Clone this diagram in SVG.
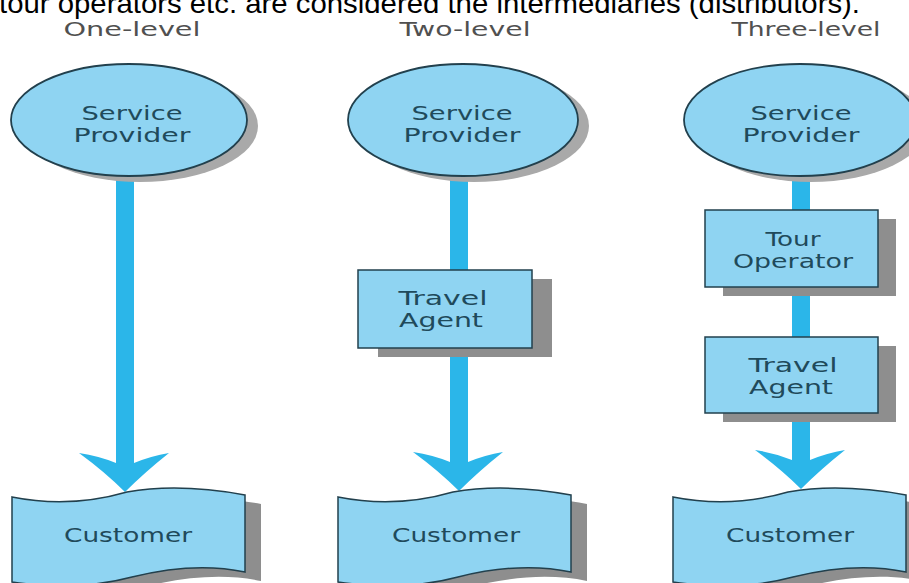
<svg xmlns="http://www.w3.org/2000/svg" width="909" height="583" viewBox="0 0 909 583">
<style>
.sp{fill:#8fd4f2;stroke:#22404d;stroke-width:1.8}
.bx{fill:#8fd4f2;stroke:#22404d;stroke-width:1.5}
.sh{fill:#8e8e8e}
.esh{fill:#a9a9a9}
.flow{fill:#2bb6e9}
.lbl{font-family:"DejaVu Sans",sans-serif;font-size:19px;fill:#1f4a5b;text-anchor:middle}
.hdr{font-family:"DejaVu Sans",sans-serif;font-size:20px;fill:#505050;text-anchor:middle}
.top{font-family:"Liberation Sans",Arial,sans-serif;font-size:28px;fill:#000}
</style>
<defs>
<path id="cust" d="M0,0 C30,6 70,8 115,-5 C155,-12 200,-8 233,-2 L233,75 C200,68 160,70 120,80 C75,92 35,90 0,85 Z"/>
<path id="head" d="M-46,0 Q-26,3 -9,10 L9,10 Q26,3 44,0 Q20,19 0,39 Q-20,19 -46,0 Z"/>
</defs>
<rect width="909" height="583" fill="#fff"/>
<text class="top" x="-1" y="13" textLength="861" lengthAdjust="spacingAndGlyphs">tour operators etc. are considered the intermediaries (distributors).</text>
<g id="headers">
<text class="hdr" x="132" y="36" textLength="137" lengthAdjust="spacingAndGlyphs">One-level</text>
<text class="hdr" x="465" y="36" textLength="131" lengthAdjust="spacingAndGlyphs">Two-level</text>
<text class="hdr" x="806" y="36" textLength="149" lengthAdjust="spacingAndGlyphs">Three-level</text>
</g>
<g id="connectors">
<rect class="flow" x="116" y="175" width="18" height="290"/>
<use href="#head" class="flow" transform="translate(125,453)"/>
<rect class="flow" x="450" y="175" width="18" height="97"/>
<rect class="flow" x="450" y="346" width="18" height="118"/>
<use href="#head" class="flow" transform="translate(459,452)"/>
<rect class="flow" x="792" y="175" width="18" height="37"/>
<rect class="flow" x="792" y="285" width="18" height="54"/>
<rect class="flow" x="792" y="411" width="18" height="51"/>
<use href="#head" class="flow" transform="translate(801,450)"/>
</g>
<g id="sp1">
<ellipse class="esh" cx="140" cy="126" rx="118" ry="56"/>
<ellipse class="sp" cx="129" cy="120" rx="118" ry="56"/>
<text class="lbl" x="132" y="120" textLength="101" lengthAdjust="spacingAndGlyphs">Service</text>
<text class="lbl" x="132" y="142" textLength="117" lengthAdjust="spacingAndGlyphs">Provider</text>
</g>
<g id="sp2">
<ellipse class="esh" cx="474" cy="126" rx="115" ry="56"/>
<ellipse class="sp" cx="463" cy="120" rx="115" ry="56"/>
<text class="lbl" x="462" y="120" textLength="101" lengthAdjust="spacingAndGlyphs">Service</text>
<text class="lbl" x="462" y="142" textLength="117" lengthAdjust="spacingAndGlyphs">Provider</text>
</g>
<g id="sp3">
<ellipse class="esh" cx="811" cy="126" rx="116" ry="56"/>
<ellipse class="sp" cx="800" cy="120" rx="116" ry="56"/>
<text class="lbl" x="801" y="120" textLength="101" lengthAdjust="spacingAndGlyphs">Service</text>
<text class="lbl" x="801" y="142" textLength="117" lengthAdjust="spacingAndGlyphs">Provider</text>
</g>
<g id="ta2">
<rect class="sh" x="378" y="279" width="174" height="78"/>
<rect class="bx" x="358" y="270" width="174" height="78"/>
<text class="lbl" x="443" y="305" textLength="89" lengthAdjust="spacingAndGlyphs">Travel</text>
<text class="lbl" x="441" y="327" textLength="84" lengthAdjust="spacingAndGlyphs">Agent</text>
</g>
<g id="to3">
<rect class="sh" x="723" y="219" width="173" height="77"/>
<rect class="bx" x="705" y="210" width="173" height="77"/>
<text class="lbl" x="793" y="246" textLength="55" lengthAdjust="spacingAndGlyphs">Tour</text>
<text class="lbl" x="793" y="268" textLength="120" lengthAdjust="spacingAndGlyphs">Operator</text>
</g>
<g id="ta3">
<rect class="sh" x="723" y="346" width="173" height="76"/>
<rect class="bx" x="705" y="337" width="173" height="76"/>
<text class="lbl" x="793" y="372" textLength="89" lengthAdjust="spacingAndGlyphs">Travel</text>
<text class="lbl" x="791" y="394" textLength="84" lengthAdjust="spacingAndGlyphs">Agent</text>
</g>
<g id="c1">
<use href="#cust" class="sh" transform="translate(28,506)"/>
<use href="#cust" class="bx" transform="translate(12,497)"/>
<text class="lbl" x="128" y="542" textLength="128" lengthAdjust="spacingAndGlyphs">Customer</text>
</g>
<g id="c2">
<use href="#cust" class="sh" transform="translate(354,506)"/>
<use href="#cust" class="bx" transform="translate(338,497)"/>
<text class="lbl" x="456" y="542" textLength="128" lengthAdjust="spacingAndGlyphs">Customer</text>
</g>
<g id="c3">
<use href="#cust" class="sh" transform="translate(689,506)"/>
<use href="#cust" class="bx" transform="translate(673,497)"/>
<text class="lbl" x="790" y="542" textLength="128" lengthAdjust="spacingAndGlyphs">Customer</text>
</g>
</svg>
